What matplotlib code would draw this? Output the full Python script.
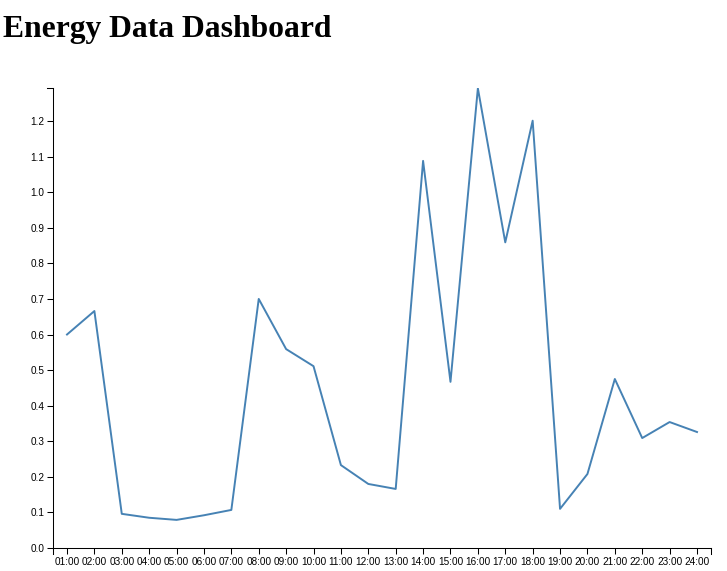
import matplotlib

matplotlib.use("Agg")
import matplotlib.pyplot as plt
import numpy as np

# hourly energy readings
hours = [f"{h:02d}:00" for h in range(1, 25)]
energy = [0.600, 0.666, 0.096, 0.085, 0.079, 0.092, 0.107, 0.700,
          0.559, 0.511, 0.233, 0.180, 0.166, 1.088, 0.467, 1.292,
          0.859, 1.201, 0.110, 0.208, 0.475, 0.309, 0.354, 0.326]
y_ticks = [0.0, 0.1, 0.2, 0.3, 0.4, 0.5, 0.6, 0.7, 0.8, 0.9, 1.0, 1.1, 1.2]

W, H = 727, 571
fig = plt.figure(figsize=(W / 100, H / 100), dpi=100)

left, right, top, bottom = 53.3, 710.7, 88.3, 548.0
ax = fig.add_axes([left / W, 1 - bottom / H, (right - left) / W, (bottom - top) / H])

x = np.arange(len(hours))
ax.plot(x, energy, color="steelblue", linewidth=1.4)

ax.set_xlim(-0.5, len(hours) - 0.5)
ax.set_ylim(0, max(energy))
ax.set_xticks(x)
ax.set_xticklabels(hours)
ax.set_yticks(y_ticks)
ax.set_yticklabels([f"{v:.1f}" for v in y_ticks])

for side in ("top", "right"):
    ax.spines[side].set_visible(False)
for side in ("left", "bottom"):
    ax.spines[side].set_linewidth(0.75)
    ax.spines[side].set_color("black")
ax.tick_params(length=4.3, width=0.75, labelsize=7.2, pad=2,
               labelfontfamily="Liberation Sans", colors="black")

# d3-style outer ticks at the ends of the domain
kw = dict(color="black", linewidth=0.75, clip_on=False, transform=ax.transAxes)
tx = 6 / (right - left)
ty = 6 / (bottom - top)
ax.plot([-tx, 0], [1, 1], **kw)
ax.plot([0, 0], [0, -ty], **kw)
ax.plot([1, 1], [0, -ty], **kw)

fig.text(3 / W, 1 - 37 / H, "Energy Data Dashboard", fontsize=22.8,
         fontweight="bold", family="Liberation Serif", va="baseline", ha="left")

fig.savefig("out.png", dpi=100)
